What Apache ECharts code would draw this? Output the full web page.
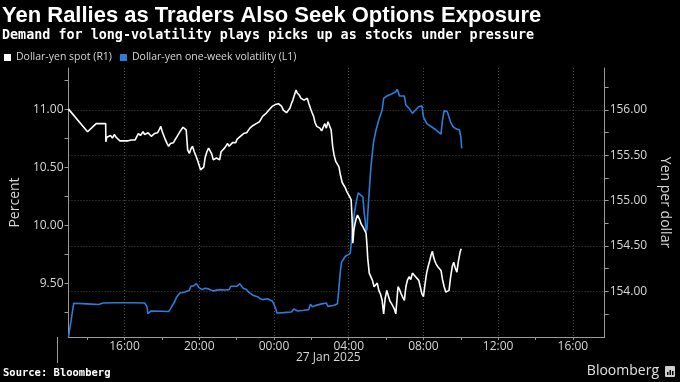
<!DOCTYPE html>
<html><head><meta charset="utf-8">
<script src="https://cdn.jsdelivr.net/npm/echarts@6/dist/echarts.min.js"></script>
<style>html,body{margin:0;padding:0;background:#000;}#c{width:680px;height:382px;}</style>
</head><body><div id="c"></div>
<script>
// Hours counted from 26 Jan 2025 00:00 (24 = 27 Jan 00:00)
const spotHours = [13.00,14.02,14.48,14.99,15.00,15.05,15.15,15.25,15.35,15.45,15.55,15.65,15.75,15.85,16.00,16.10,16.20,16.35,16.45,16.57,16.66,16.74,16.85,16.99,17.08,17.17,17.26,17.34,17.43,17.51,17.60,17.68,17.77,17.85,17.94,18.02,18.11,18.19,18.28,18.36,18.45,18.53,18.62,18.70,18.79,18.87,18.96,19.04,19.13,19.21,19.30,19.38,19.47,19.55,19.64,19.73,19.81,19.90,19.98,20.07,20.15,20.24,20.32,20.41,20.50,20.58,20.66,20.75,20.83,20.92,21.00,21.09,21.17,21.26,21.35,21.43,21.52,21.60,21.69,21.78,21.86,21.95,22.03,22.12,22.20,22.29,22.37,22.45,22.54,22.63,22.71,22.80,22.88,22.97,23.05,23.14,23.22,23.31,23.39,23.48,23.56,23.65,23.73,23.82,23.90,23.99,24.07,24.15,24.24,24.32,24.41,24.50,24.58,24.67,24.76,24.85,24.93,25.01,25.10,25.18,25.24,25.30,25.37,25.44,25.52,25.61,25.70,25.78,25.87,25.95,26.04,26.12,26.20,26.29,26.37,26.46,26.55,26.63,26.72,26.80,26.89,26.97,27.06,27.14,27.22,27.31,27.40,27.48,27.56,27.65,27.74,27.82,27.90,27.99,28.06,28.13,28.18,28.22,28.28,28.34,28.40,28.47,28.53,28.59,28.67,28.76,28.84,28.93,28.98,29.02,29.10,29.19,29.27,29.36,29.44,29.53,29.61,29.70,29.79,29.87,29.95,30.04,30.12,30.21,30.30,30.38,30.45,30.52,30.58,30.64,30.72,30.81,30.90,30.98,31.06,31.14,31.23,31.32,31.41,31.50,31.58,31.67,31.75,31.83,31.92,32.00,32.08,32.17,32.26,32.34,32.41,32.48,32.54,32.60,32.68,32.77,32.86,32.94,33.02,33.11,33.20,33.28,33.37,33.45,33.54,33.62,33.70,33.79,33.87,33.96,34.02];
const spotValues = [156.01,155.76,155.85,155.85,155.65,155.70,155.69,155.72,155.69,155.73,155.70,155.68,155.66,155.65,155.66,155.65,155.66,155.67,155.69,155.67,155.71,155.74,155.72,155.76,155.73,155.72,155.75,155.74,155.71,155.72,155.74,155.76,155.75,155.78,155.82,155.76,155.74,155.67,155.63,155.60,155.63,155.61,155.64,155.67,155.70,155.72,155.76,155.78,155.81,155.83,155.78,155.56,155.52,155.57,155.60,155.54,155.50,155.45,155.40,155.34,155.35,155.37,155.48,155.54,155.58,155.56,155.52,155.45,155.44,155.47,155.47,155.45,155.54,155.53,155.58,155.57,155.63,155.60,155.61,155.64,155.65,155.64,155.68,155.69,155.71,155.70,155.74,155.73,155.75,155.77,155.80,155.78,155.83,155.82,155.85,155.84,155.87,155.89,155.93,155.94,155.96,155.97,156.00,156.02,156.04,156.03,156.06,156.04,156.07,156.05,156.04,156.00,155.98,155.97,155.96,156.02,156.07,156.11,156.17,156.22,156.19,156.18,156.16,156.13,156.15,156.11,156.13,156.13,156.07,156.02,155.97,155.93,155.86,155.82,155.81,155.80,155.77,155.76,155.85,155.80,155.87,155.89,155.78,155.60,155.50,155.43,155.40,155.37,155.28,155.20,155.18,155.14,155.10,155.08,155.04,155.01,154.80,154.53,154.68,154.75,154.80,154.84,154.82,154.79,154.74,154.71,154.69,154.64,154.50,154.36,154.20,154.19,154.12,154.05,154.05,154.09,154.01,153.97,153.90,153.75,153.92,154.01,153.95,153.89,153.86,153.83,153.80,153.75,153.90,154.05,154.02,153.97,153.93,153.90,154.05,154.12,154.16,154.13,154.20,154.18,154.16,154.14,154.12,154.05,153.97,153.94,154.07,154.20,154.28,154.34,154.40,154.44,154.38,154.34,154.30,154.27,154.25,154.23,154.13,154.05,153.99,154.00,154.01,154.15,154.27,154.32,154.26,154.21,154.33,154.43,154.47];
const volHours = [13.00,13.28,14.00,14.61,14.86,15.50,16.50,17.08,17.20,17.25,17.42,18.00,18.36,18.45,18.53,18.70,18.79,18.96,19.20,19.47,19.55,19.70,19.85,19.98,20.05,20.15,20.30,20.41,20.55,20.75,21.09,21.40,21.60,21.69,22.03,22.10,22.17,22.25,22.37,22.54,22.62,22.71,22.88,23.14,23.25,23.39,23.65,23.90,23.99,24.10,24.16,24.50,24.93,25.06,25.15,25.27,25.60,25.86,25.95,26.05,26.12,26.20,26.29,26.55,26.80,26.89,27.23,27.40,27.48,27.55,27.62,27.82,28.08,28.17,28.30,28.42,28.51,28.64,28.76,28.82,28.88,28.93,28.98,29.02,29.10,29.19,29.32,29.44,29.61,29.79,29.87,30.04,30.30,30.52,30.60,30.72,30.98,31.06,31.23,31.41,31.58,31.74,31.92,32.00,32.17,32.43,32.68,32.94,33.02,33.11,33.28,33.45,33.59,33.71,33.93,34.00,34.05];
const volValues = [9.04,9.33,9.325,9.32,9.333,9.335,9.335,9.333,9.30,9.241,9.264,9.262,9.26,9.28,9.293,9.35,9.385,9.419,9.425,9.442,9.477,9.48,9.50,9.465,9.47,9.448,9.46,9.457,9.45,9.437,9.448,9.445,9.448,9.477,9.477,9.49,9.50,9.48,9.457,9.448,9.43,9.413,9.399,9.385,9.37,9.362,9.370,9.350,9.327,9.28,9.247,9.25,9.255,9.281,9.27,9.264,9.27,9.276,9.322,9.30,9.298,9.31,9.322,9.325,9.333,9.304,9.313,9.327,9.471,9.60,9.686,9.735,9.758,9.902,10.103,10.218,10.281,10.261,10.247,10.12,10.046,9.945,9.97,10.10,10.30,10.505,10.707,10.807,10.908,10.994,11.095,11.115,11.132,11.152,11.172,11.115,11.115,11.037,11.008,10.965,10.994,11.023,11.03,10.936,10.879,10.850,10.822,10.787,10.908,10.988,10.98,10.893,10.850,10.836,10.822,10.764,10.664];

const xLabelHours = [16,20,24,28,32,36,40];
const xLabelTexts = ['16:00','20:00','00:00','04:00','08:00','12:00','16:00'];
const xTickHours = [14,16,18,20,22,24,26,28,30,32,34,36,38,40];
const volLabelValues = [9.5,10,10.5,11];
const volTickValues = [9.25,9.5,9.75,10,10.25,10.5,10.75,11,11.25];
const spotLabelValues = [154,154.5,155,155.5,156];
const spotTickValues = [153.75,154,154.25,154.5,154.75,155,155.25,155.5,155.75,156,156.25];
const dateLabel = '27 Jan 2025';
const spotName = 'Dollar-yen spot (R1)';
const volName = 'Dollar-yen one-week volatility (L1)';

const axisCol = '#9a9a9a';
const labCol = '#d6d6d6';
const F = 'Open Sans';
const gridStyle = {type:[1,2], color:'#4a4a4a', width:1};

const chart = echarts.init(document.getElementById('c'), null, {renderer:'canvas'});
chart.setOption({
  backgroundColor:'#000',
  animation:false,
  title:[
    {text:'Yen Rallies as Traders Also Seek Options Exposure', left:2, top:5, padding:0,
     textStyle:{color:'#fff', fontSize:22, fontWeight:'bold', fontFamily:'Liberation Sans'}},
    {text:'Demand for long-volatility plays picks up as stocks under pressure', left:2, top:29, padding:0,
     textStyle:{color:'#fff', fontSize:13.4, fontWeight:'bold', fontFamily:'DejaVu Sans Mono'}},
    {text:'Source: Bloomberg', left:3, top:368, padding:0,
     textStyle:{color:'#fff', fontSize:10.5, fontWeight:'bold', fontFamily:'DejaVu Sans Mono'}}
  ],
  legend:{
    data:[spotName, volName], left:4, top:52, padding:0, icon:'rect', itemWidth:7, itemHeight:7, itemGap:8,
    textStyle:{color:labCol, fontSize:10.5, fontFamily:F}
  },
  grid:{left:57, right:62, top:68, bottom:45, containLabel:false},
  xAxis:[
    {type:'value', min:13, max:41.7, position:'bottom',
     axisLine:{show:true, lineStyle:{color:axisCol}},
     axisTick:{show:false, customValues:xLabelHours},
     axisLabel:{customValues:xLabelHours, color:labCol, fontSize:12, fontFamily:F, margin:4,
       formatter:(v)=>{const i=xLabelHours.findIndex(h=>Math.abs(h-v)<1e-6); return i>=0?xLabelTexts[i]:'';}},
     splitLine:{show:true, lineStyle:gridStyle}},
    {type:'value', min:13, max:41.7, position:'bottom',
     axisLine:{show:false}, axisLabel:{show:false}, splitLine:{show:false},
     axisTick:{show:true, customValues:xTickHours, length:3, lineStyle:{color:axisCol}}}
  ],
  yAxis:[
    {type:'value', position:'left', min:9.04, max:11.356,
     name:'Percent', nameLocation:'middle', nameGap:44, nameTextStyle:{color:labCol, fontSize:14, fontFamily:F},
     axisLine:{show:true, lineStyle:{color:axisCol}},
     axisTick:{show:true, customValues:volTickValues, length:4, lineStyle:{color:axisCol}},
     axisLabel:{customValues:volLabelValues, color:labCol, fontSize:12, fontFamily:F, margin:5, formatter:(v)=>v.toFixed(2)},
     splitLine:{show:false}},
    {type:'value', position:'right', min:153.495, max:156.464,
     name:'Yen per dollar', nameLocation:'middle', nameRotate:-90, nameGap:50, nameTextStyle:{color:labCol, fontSize:14, fontFamily:F},
     axisLine:{show:true, lineStyle:{color:axisCol}},
     axisTick:{show:true, customValues:spotTickValues, length:4, lineStyle:{color:axisCol}},
     axisLabel:{customValues:spotLabelValues, color:labCol, fontSize:12, fontFamily:F, margin:5, formatter:(v)=>v.toFixed(2)},
     splitLine:{show:false}},
    {type:'value', position:'right', min:153.495, max:156.464,
     axisLine:{show:false}, axisLabel:{show:false},
     axisTick:{show:false, customValues:spotLabelValues},
     splitLine:{show:true, lineStyle:gridStyle}}
  ],
  series:[
    {name:volName, type:'line', xAxisIndex:0, yAxisIndex:0, showSymbol:false, symbol:'none', z:3,
     data:volHours.map((h,i)=>[h, volValues[i]]),
     lineStyle:{color:'#2c7cd8', width:1.6}, itemStyle:{color:'#2c7cd8'}},
    {name:spotName, type:'line', xAxisIndex:0, yAxisIndex:1, showSymbol:false, symbol:'none', z:4,
     data:spotHours.map((h,i)=>[h, spotValues[i]]),
     lineStyle:{color:'#ffffff', width:1.6}, itemStyle:{color:'#ffffff'}}
  ],
  graphic:[
    {type:'text', left:296, top:352, style:{text:dateLabel, fill:labCol, font:'12px "Open Sans"'}},
    {type:'line', shape:{x1:57.5, y1:337, x2:57.5, y2:363}, style:{stroke:axisCol, lineWidth:1}},
    {type:'text', right:21, top:364, style:{text:'Bloomberg', fill:'#e0e0e0', font:'500 14px "Open Sans"'}},
    {type:'rect', shape:{x:665, y:366, width:10, height:11, r:1}, style:{fill:'#cfcfcf'}},
    {type:'rect', shape:{x:667, y:372, width:1.5, height:3}, style:{fill:'#000'}},
    {type:'rect', shape:{x:669.5, y:370, width:1.5, height:5}, style:{fill:'#000'}},
    {type:'rect', shape:{x:672, y:371, width:1.5, height:4}, style:{fill:'#000'}}
  ]
});
</script></body></html>
